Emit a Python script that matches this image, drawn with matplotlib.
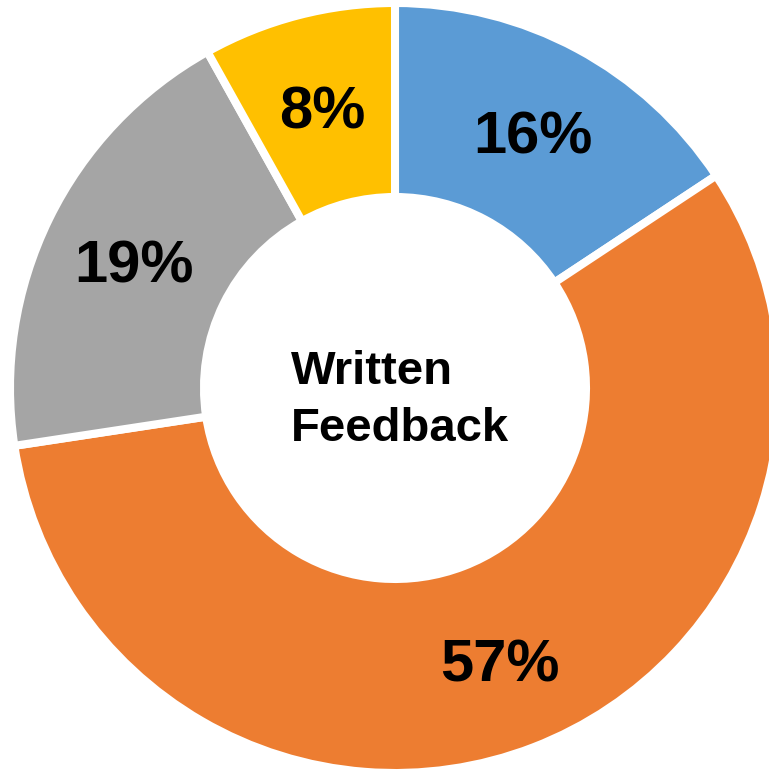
import matplotlib.pyplot as plt

# Written feedback shares
labels = ["A", "B", "C", "D"]
values = [15.7, 56.9, 19.3, 8.1]
colors = ["#5B9BD5", "#ED7D31", "#A5A5A5", "#FFC000"]
center_text = "Written\nFeedback"

plt.rcParams['font.family'] = ['Liberation Sans', 'DejaVu Sans']

fig = plt.figure(figsize=(7.69, 7.71), dpi=100)
ax = fig.add_axes([0, 0, 1, 1])

px = 385.0  # pixels per data unit (outer radius)
cx, cy = 395.0, 388.0

wedges, texts, autotexts = ax.pie(
    values, colors=colors, startangle=90, counterclock=False,
    radius=1.0, autopct='%.0f%%', pctdistance=0.755,
    wedgeprops=dict(width=1 - 191 / 385, edgecolor='white', linewidth=5.8),
    textprops=dict(fontsize=43, fontweight='bold', color='black'),
    frame=True,
)
# nudge the percent labels down a little (glyph centring)
for t in autotexts:
    x, y = t.get_position()
    t.set_position((x, y - 6.5 / px))

ax.set_aspect('auto')
ax.set_xlim(-cx / px, (769 - cx) / px)
ax.set_ylim((cy - 771) / px, cy / px)
ax.axis('off')

ax.text(-0.27, -0.032, center_text, ha='left', va='center', fontsize=34,
        fontweight='bold', linespacing=1.37)

fig.savefig("out.png", dpi=100)
